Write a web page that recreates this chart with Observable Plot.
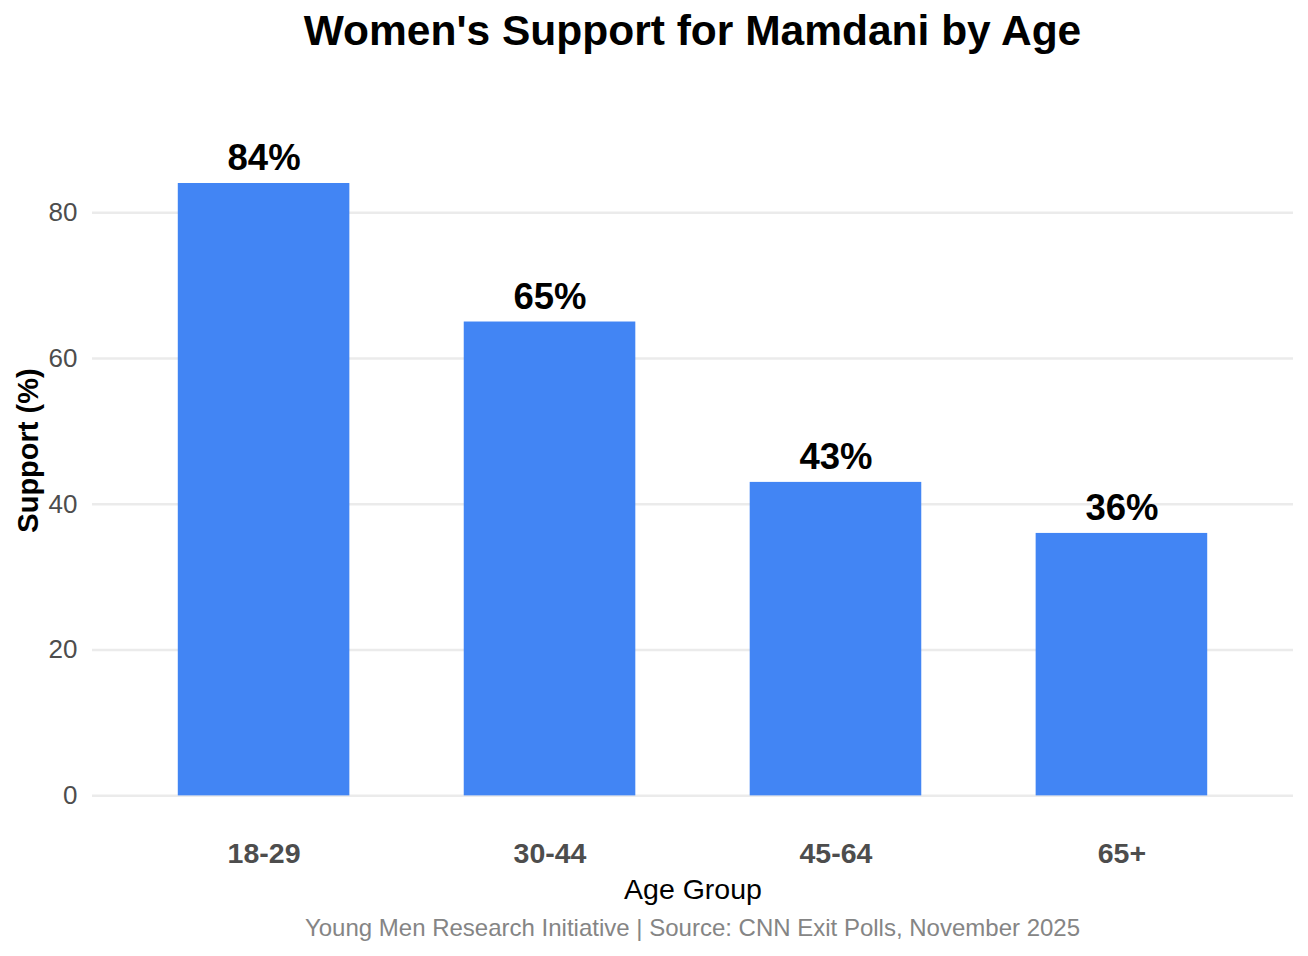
<!DOCTYPE html>
<html>
<head>
<meta charset="utf-8">
<script src="https://cdn.jsdelivr.net/npm/d3@7"></script>
<script src="https://cdn.jsdelivr.net/npm/@observablehq/plot@0.6"></script>
<style>
  html, body { margin: 0; padding: 0; background: #ffffff; }
  body { width: 1308px; height: 956px; overflow: hidden; font-family: "Liberation Sans", Arial, Helvetica, sans-serif; }
  #title { height: 62px; line-height: 62px; font-size: 42.5px; font-weight: bold; color: #000; padding-left: 92px; width: 1201px; text-align: center; }
  #chart svg { display: block; overflow: visible; }
  #caption { height: 46px; line-height: 46px; font-size: 24px; color: #858585; padding-left: 92px; width: 1201px; text-align: center; }
</style>
</head>
<body>
<div id="title">Women's Support for Mamdani by Age</div>
<div id="chart"></div>
<div id="caption">Young Men Research Initiative | Source: CNN Exit Polls, November 2025</div>
<script>
const ageGroups = ["18-29", "30-44", "45-64", "65+"];
const support = [84, 65, 43, 36];
const yTicks = [0, 20, 40, 60, 80];

const data = ageGroups.map((g, i) => ({group: g, value: support[i], label: support[i] + "%"}));

const chart = Plot.plot({
  width: 1308,
  height: 843,
  marginTop: 8,
  marginBottom: 75,
  marginLeft: 92,
  marginRight: 15,
  style: {fontFamily: '"Liberation Sans", Arial, Helvetica, sans-serif', background: "#ffffff", overflow: "visible"},
  x: {domain: ageGroups, paddingInner: 0.4, paddingOuter: 0.3, round: false, label: null},
  y: {domain: [-4.75, 99.5], label: null},
  marks: [
    Plot.gridY(yTicks, {stroke: "#ebebeb", strokeOpacity: 1, strokeWidth: 2.5}),
    Plot.barY(data, {x: "group", y: "value", fill: "#4285F4"}),
    Plot.text(data, {x: "group", y: "value", text: "label", lineAnchor: "bottom", dy: -13, fontSize: 36.5, fontWeight: "bold", fill: "#000000"}),
    Plot.axisY({ticks: yTicks, tickSize: 0, tickPadding: 15, fontSize: 26, color: "#4d4d4d", label: null}),
    Plot.axisX({tickSize: 0, tickPadding: 12, fontSize: 28.5, fontWeight: "bold", color: "#4d4d4d", label: null}),
    Plot.text(["Support (%)"], {frameAnchor: "left", textAnchor: "middle", dx: -64, rotate: -90, fontSize: 29, fontWeight: "bold", fill: "#000000"}),
    Plot.text(["Age Group"], {frameAnchor: "bottom", dy: 68, lineAnchor: "bottom", fontSize: 28.5, fill: "#000000"})
  ]
});
document.getElementById("chart").appendChild(chart);
</script>
</body>
</html>
